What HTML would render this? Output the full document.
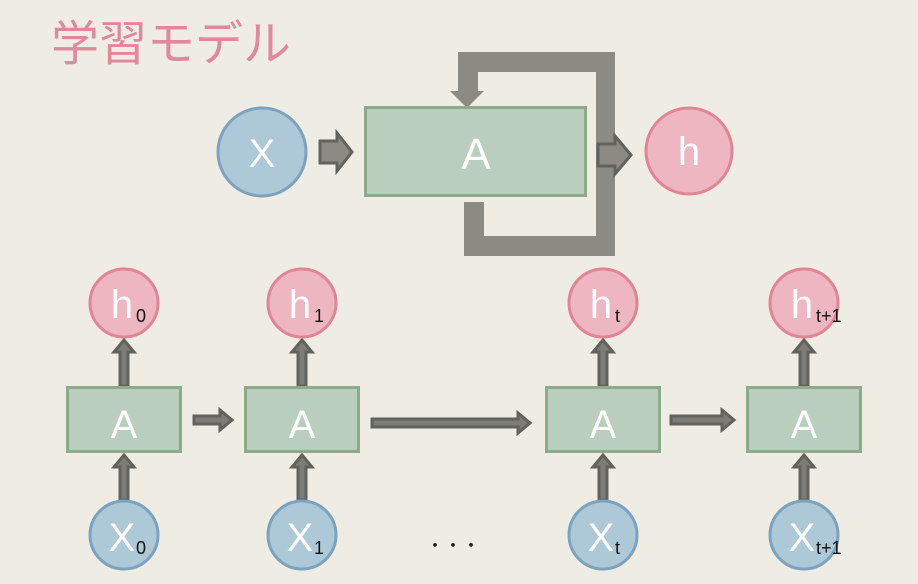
<!DOCTYPE html>
<html><head><meta charset="utf-8"><style>
html,body{margin:0;padding:0;background:#efece4;}
svg{display:block}
text{font-family:"Liberation Sans","DejaVu Sans","Noto Sans CJK JP",sans-serif}
</style></head><body>
<svg width="918" height="584" viewBox="0 0 918 584" xmlns="http://www.w3.org/2000/svg">
<rect width="918" height="584" fill="#efece4"/>
<text x="51" y="60" font-size="48" fill="#e0899a" font-family="'Noto Sans CJK JP',sans-serif">学習モデル</text>

<g fill="#8b8b83">
  <rect x="458" y="52" width="157" height="20"/>
  <rect x="596" y="52" width="19" height="204"/>
  <rect x="464" y="236" width="151" height="20"/>
  <rect x="464" y="202" width="20" height="54"/>
  <rect x="458" y="72" width="20" height="20"/>
  <polygon points="450,91 484,91 467,108"/>
</g>

<circle cx="262" cy="152" r="44" fill="#adc8d6" stroke="#7ba3bf" stroke-width="3"/>
<text x="262" y="167" font-size="40" fill="#fff" text-anchor="middle">X</text>

<polygon points="320,141 337,141 337,133 352,152 337,171 337,163 320,163" fill="#8b8b83" stroke="#62625d" stroke-width="3"/>

<rect x="365.5" y="107.5" width="220" height="88" fill="#bacebd" stroke="#8cab8b" stroke-width="3"/>
<text x="476" y="169" font-size="44" fill="#fff" text-anchor="middle">A</text>

<polygon points="598,144 615,144 615,136 631,155 615,174 615,166 598,166" fill="#8b8b83" stroke="#62625d" stroke-width="3"/>

<circle cx="689" cy="151" r="43" fill="#edb6c0" stroke="#e08496" stroke-width="3"/>
<text x="689" y="165" font-size="40" fill="#fff" text-anchor="middle">h</text>

<g id="unrolled"></g>
<text x="453" y="552" font-size="18" fill="#222" text-anchor="middle">・・・</text>
</svg>
<script>
const cols=[124,302,603,804];
const subs=['0','1','t','t+1'];
const g=document.getElementById('unrolled');
const NS='http://www.w3.org/2000/svg';
function mk(t,a){const e=document.createElementNS(NS,t);for(const k in a)e.setAttribute(k,a[k]);g.appendChild(e);return e;}
function vArrow(cx,y1,y2){
  const e=mk('polygon',{points:`${cx-4},${y1} ${cx-4},${y2+12} ${cx-10},${y2+12} ${cx},${y2} ${cx+10},${y2+12} ${cx+4},${y2+12} ${cx+4},${y1}`,fill:'#7d7d76',stroke:'#62625d','stroke-width':3});
  
  
}
function hArrow(x1,x2,cy){
  const e=mk('polygon',{points:`${x1},${cy-4} ${x2-12},${cy-4} ${x2-12},${cy-10} ${x2},${cy} ${x2-12},${cy+10} ${x2-12},${cy+4} ${x1},${cy+4}`,fill:'#7d7d76',stroke:'#62625d','stroke-width':3});
  
  
}
hArrow(194,232,420);hArrow(372,530,423);hArrow(671,734,420);
cols.forEach((cx,i)=>{
  vArrow(cx,386,340);
  vArrow(cx,500,455);
  const r=mk('rect',{x:cx-56.5,y:387.5,width:113,height:64,fill:'#bacebd',stroke:'#8cab8b','stroke-width':3});
  
  
  const ta=mk('text',{x:cx,y:438,'font-size':40,fill:'#fff','text-anchor':'middle'});ta.textContent='A';
  const ch=mk('circle',{cx:cx,cy:303,r:34,fill:'#edb6c0',stroke:'#e08496','stroke-width':3});
  
  
  const th=mk('text',{x:cx-2,y:318,'font-size':40,fill:'#fff','text-anchor':'middle'});th.textContent='h';
  const sh=mk('text',{x:cx+12,y:322,'font-size':18,fill:'#111'});sh.textContent=subs[i];
  const cxn=mk('circle',{cx:cx,cy:535,r:34,fill:'#adc8d6',stroke:'#7ba3bf','stroke-width':3});
  
  
  const tx=mk('text',{x:cx-2,y:551,'font-size':40,fill:'#fff','text-anchor':'middle'});tx.textContent='X';
  const sx=mk('text',{x:cx+12,y:554,'font-size':18,fill:'#111'});sx.textContent=subs[i];
});
</script>
</body></html>
